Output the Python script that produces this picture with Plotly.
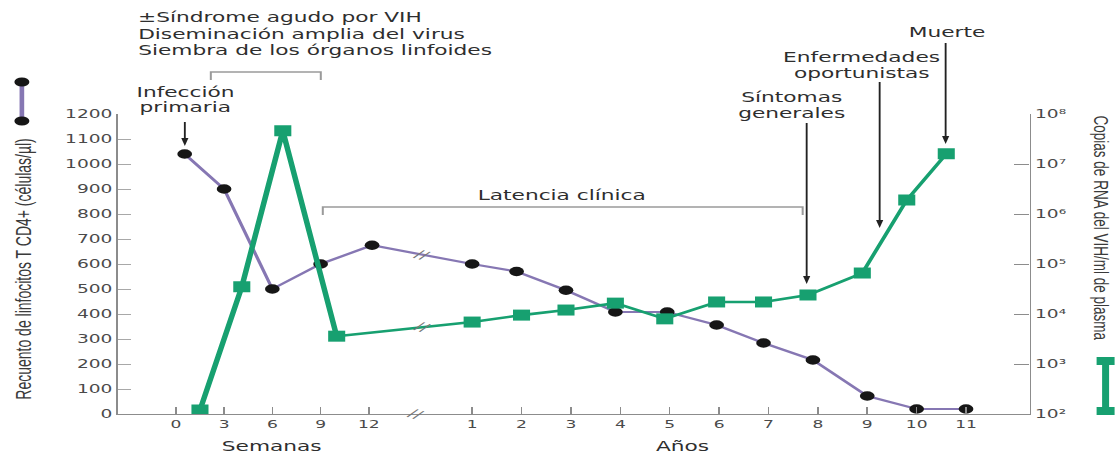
import numpy as np
import plotly.graph_objects as go

# CD4+ T-lymphocyte count (cells/µl): early weeks, then years
cd4_weeks = [0.55, 3, 6, 9, 12.2]
cd4_weeks_count = [1040, 900, 500, 600, 675]
cd4_years = [1, 1.9, 2.9, 3.9, 4.95, 5.95, 6.9, 7.9, 9, 10, 11]
cd4_years_count = [600, 570, 495, 408, 408, 356, 284, 216, 72, 20, 20]

# Plasma HIV RNA (copies/ml): early weeks, then years
rna_weeks = [1.5, 4.1, 6.65, 10.0]
rna_weeks_copies = [120, 35000, 4.6e7, 3600]
rna_years = [1, 2, 2.9, 3.9, 4.9, 5.95, 6.9, 7.8, 8.9, 9.8, 10.6]
rna_years_copies = [6900, 9500, 12000, 16500, 8000, 17400, 17400, 24000, 66000, 1.9e6, 1.6e7]

week_ticks = [0, 3, 6, 9, 12]
year_ticks = list(range(1, 12))
cd4_ticks = list(range(0, 1300, 100))
rna_exponents = [2, 3, 4, 5, 6, 7, 8]
SUPERSCRIPT = str.maketrans("0123456789", "⁰¹²³⁴⁵⁶⁷⁸⁹")

# broken time axis: weeks on the left, years on the right
WEEK_UNIT = 0.3257
YEAR_OFFSET = 5.0


def weeks_pos(w):
    return np.asarray(w, dtype=float) * WEEK_UNIT


def years_pos(y):
    return np.asarray(y, dtype=float) + YEAR_OFFSET


PURPLE = "#8677b3"
GREEN = "#17a070"
DOT = "#161616"
TXT = "#2e2e2e"
GREY = "#9a9a9a"
FONT = "DejaVu Sans"
NARROW = "Liberation Sans Narrow, Liberation Sans, sans-serif"

# page is drawn narrow and widened horizontally
W_OUT, H = 1118, 454
W = 721
K = W_OUT / W
L_PX, R_PX, T_PX, B_PX = 118, 1030, 114, 414


def pxx(px):
    return (px - L_PX) / (R_PX - L_PX)


def pxy(py):
    return (B_PX - py) / (B_PX - T_PX)


x_min = (L_PX - 176) / 49.4
x_max = (R_PX - 176) / 49.4

cd4_x = np.concatenate([weeks_pos(cd4_weeks), years_pos(cd4_years)])
cd4_y = np.array(cd4_weeks_count + cd4_years_count, dtype=float)
rna_wx = weeks_pos(rna_weeks)
rna_yx = years_pos(rna_years)
rna_x = np.concatenate([rna_wx, rna_yx])
rna_y = np.array(rna_weeks_copies + rna_years_copies, dtype=float)

fig = go.Figure()

# viral load line: thick during acute phase, thinner afterwards
fig.add_trace(go.Scatter(x=rna_wx, y=rna_weeks_copies, yaxis="y2", mode="lines",
                         line=dict(color=GREEN, width=3.6), hoverinfo="skip"))
fig.add_trace(go.Scatter(x=np.concatenate([rna_wx[-1:], rna_yx]),
                         y=[rna_weeks_copies[-1]] + rna_years_copies, yaxis="y2",
                         mode="lines", line=dict(color=GREEN, width=2.6), hoverinfo="skip"))
fig.add_trace(go.Scatter(x=rna_x, y=rna_y, yaxis="y2", mode="markers",
                         marker=dict(symbol="square", size=11, color=GREEN,
                                     line=dict(width=0)), hoverinfo="skip"))

# CD4 count
fig.add_trace(go.Scatter(x=cd4_x, y=cd4_y, mode="lines+markers",
                         line=dict(color=PURPLE, width=2.2),
                         marker=dict(symbol="circle", size=9.5, color=DOT,
                                     line=dict(width=0)), hoverinfo="skip"))

ann = []
shapes = []


def text(px, py, s, size=14, anchor="center", angle=0, family=FONT, color=TXT):
    ann.append(dict(x=pxx(px), y=pxy(py), xref="paper", yref="paper", text=s,
                    showarrow=False, xanchor=anchor, yanchor="middle", textangle=angle,
                    font=dict(family=family, size=size, color=color)))


def arrow(px, tip_py, tail_py, head=8, half=3.6):
    # shaft plus a filled triangular head pointing down
    shapes.append(dict(type="line", xref="paper", yref="paper",
                       x0=pxx(px), x1=pxx(px), y0=pxy(tail_py), y1=pxy(tip_py - head + 1),
                       line=dict(color="#222222", width=1.2)))
    shapes.append(dict(type="path", xref="paper", yref="paper",
                       path=f"M {pxx(px - half)},{pxy(tip_py - head)} "
                            f"L {pxx(px + half)},{pxy(tip_py - head)} "
                            f"L {pxx(px)},{pxy(tip_py)} Z",
                       fillcolor="#222222", line=dict(width=0)))


text(135, 17, "±Síndrome agudo por VIH", anchor="left")
text(135, 34, "Diseminación amplia del virus", anchor="left")
text(135, 50, "Siembra de los órganos linfoides", anchor="left")

text(185, 92, "Infección")
text(185, 107, "primaria")
arrow(185, 146, 122)

text(563, 195, "Latencia clínica")

text(792, 97, "Síntomas")
text(792, 113, "generales")
arrow(807, 284, 123)

text(862, 57, "Enfermedades")
text(862, 73, "oportunistas")
arrow(880, 228, 82)

text(947, 32, "Muerte")
arrow(946, 144, 43)

text(272, 446, "Semanas")
text(683, 446, "Años")

text(23, 269, "Recuento de linfocitos T CD4+ (células/µl)", size=14, angle=-90, family=NARROW,
     color="#3a3a3a")
text(1102, 228, "Copias de RNA del VIH/ml de plasma", size=13.5, angle=90, family=NARROW,
     color="#3a3a3a")

# break marks on the axis and on both curves
BREAK = 5.0
BREAK_FONT = dict(family=FONT, size=12, color="#777777")
ann.append(dict(x=pxx(416), y=0, xref="paper", yref="paper", text="//", showarrow=False,
                xanchor="center", yanchor="middle", textangle=25, font=BREAK_FONT))
ann.append(dict(x=BREAK, y=float(np.interp(BREAK, cd4_x, cd4_y)), xref="x", yref="y",
                text="//", showarrow=False, textangle=25, xanchor="center",
                yanchor="middle", font=BREAK_FONT))
ann.append(dict(x=BREAK, y=float(np.interp(BREAK, rna_x, np.log10(rna_y))), xref="x",
                yref="y2", text="//", showarrow=False, textangle=25, xanchor="center",
                yanchor="middle", font=BREAK_FONT))


def bracket(x0, x1, py, drop):
    shapes.append(dict(type="path", xref="paper", yref="paper",
                       path=f"M {pxx(x0)},{pxy(py + drop)} L {pxx(x0)},{pxy(py)} "
                            f"L {pxx(x1)},{pxy(py)} L {pxx(x1)},{pxy(py + drop)}",
                       line=dict(color=GREY, width=1.3)))


bracket(211, 321, 72, 8)
bracket(323, 803, 207, 8)

# series keys beside the axis titles
shapes.append(dict(type="line", xref="paper", yref="paper", x0=pxx(22), x1=pxx(22),
                   y0=pxy(121), y1=pxy(82), line=dict(color=PURPLE, width=3)))
for cy in (82, 121):
    shapes.append(dict(type="circle", xref="paper", yref="paper",
                       x0=pxx(14.5), x1=pxx(29.5), y0=pxy(cy + 4.5), y1=pxy(cy - 4.5),
                       fillcolor=DOT, line=dict(width=0)))
for (x0, x1, y0, y1) in [(1097, 1115, 357, 365), (1097, 1115, 407, 415), (1102.5, 1109.5, 361, 411)]:
    shapes.append(dict(type="rect", xref="paper", yref="paper",
                       x0=pxx(x0), x1=pxx(x1), y0=pxy(y1), y1=pxy(y0),
                       fillcolor=GREEN, line=dict(width=0)))

tick_vals = list(weeks_pos(week_ticks)) + list(years_pos(year_ticks))
tick_text = [str(v) for v in week_ticks] + [str(v) for v in year_ticks]

fig.update_layout(
    template="none",
    width=W, height=H,
    margin=dict(l=L_PX / K, r=(W_OUT - R_PX) / K, t=T_PX, b=H - B_PX, autoexpand=False),
    paper_bgcolor="white", plot_bgcolor="white",
    showlegend=False,
    annotations=ann,
    shapes=shapes,
    xaxis=dict(range=[x_min, x_max], tickvals=tick_vals, ticktext=tick_text,
               ticks="inside", ticklen=7, tickwidth=1, tickcolor="#8c8c8c",
               showline=True, linecolor="#8c8c8c", linewidth=1.2,
               showgrid=False, zeroline=False, automargin=False,
               tickfont=dict(family=FONT, size=11, color="#4a4a4a")),
    yaxis=dict(range=[0, 1200], tickvals=cd4_ticks, ticks="inside", ticklen=8.4,
               tickwidth=1.2, tickcolor="#a8a8a8", showline=True, linecolor="#8c8c8c",
               linewidth=1.2, showgrid=False, zeroline=False, automargin=False,
               tickfont=dict(family=FONT, size=12, color="#4a4a4a")),
    yaxis2=dict(type="log", range=[2, 8], overlaying="y", side="right",
                tickvals=[10.0 ** e for e in rna_exponents],
                ticktext=["10" + str(e).translate(SUPERSCRIPT) for e in rna_exponents],
                ticks="inside", ticklen=9.7, tickwidth=1.2, tickcolor="#8c8c8c",
                showline=True, linecolor="#8c8c8c", linewidth=1.2,
                showgrid=False, zeroline=False, automargin=False,
                tickfont=dict(family=FONT, size=12, color="#4a4a4a")),
)

widen = (
    "var d=document.getElementById('{plot_id}');"
    "d.style.transformOrigin='0 0';"
    f"d.style.transform='scaleX({K:.5f})';"
)
fig.write_html("out.html", config={"displayModeBar": False}, post_script=widen)
